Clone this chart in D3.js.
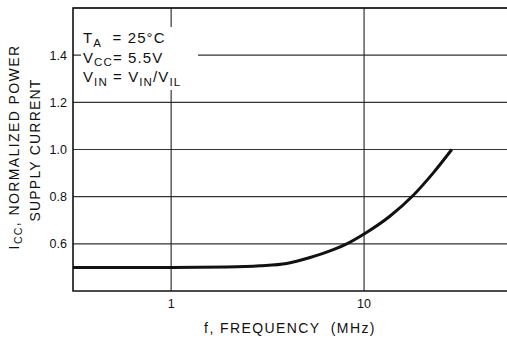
<!DOCTYPE html>
<html>
<head>
<meta charset="utf-8">
<script src="https://cdn.jsdelivr.net/npm/d3@7"></script>
<style>
  html, body { margin: 0; padding: 0; background: #fff; }
  svg { display: block; font-family: "Liberation Sans", Arial, Helvetica, sans-serif; }
</style>
</head>
<body>
<svg id="chart" width="507" height="342"></svg>
<script>
// Normalized supply current vs. frequency
const freqMHz = [0.31, 1, 1.94, 2.89, 3.97, 5.25, 6.93, 8.13, 10.1, 13.6, 18, 22.9, 28.5];
const iccNorm = [0.5, 0.5, 0.502, 0.507, 0.517, 0.542, 0.575, 0.600, 0.644, 0.717, 0.806, 0.902, 1.0];
const yTicks = [0.6, 0.8, 1.0, 1.2, 1.4];
const yGrid = [0.6, 0.8, 1.0, 1.2, 1.4, 1.6];
const xTicks = [1, 10];
const xTickLabels = ["1", "10"];

const svg = d3.select("#chart");
const plot = { left: 73, top: 8, right: 557, bottom: 291 };

const x = d3.scaleLog().domain([0.31, 100]).range([plot.left, plot.right]);
const y = d3.scaleLinear().domain([0.4, 1.6]).range([plot.bottom, plot.top]);

const ink = "#111";

// grid
svg.append("g").selectAll("line").data(yGrid).join("line")
  .attr("x1", plot.left).attr("x2", plot.right)
  .attr("y1", d => y(d)).attr("y2", d => y(d))
  .attr("stroke", "#333").attr("stroke-width", 1.1);
svg.append("g").selectAll("line").data(xTicks).join("line")
  .attr("x1", d => x(d)).attr("x2", d => x(d))
  .attr("y1", plot.top).attr("y2", plot.bottom)
  .attr("stroke", "#222").attr("stroke-width", 1.1);

// frame
svg.append("path")
  .attr("d", `M${plot.right},${plot.top}H${plot.left}V${plot.bottom}H${plot.right}`)
  .attr("fill", "none").attr("stroke", ink).attr("stroke-width", 1.6);

// curve
const line = d3.line()
  .x((d, i) => x(freqMHz[i]))
  .y(d => y(d))
  .curve(d3.curveMonotoneX);
svg.append("path")
  .datum(iccNorm)
  .attr("d", line)
  .attr("fill", "none").attr("stroke", ink).attr("stroke-width", 3)
  .attr("stroke-linecap", "butt");

// y tick labels
svg.append("g").selectAll("text").data(yTicks).join("text")
  .attr("x", 67).attr("y", d => y(d) + 4.5)
  .attr("text-anchor", "end")
  .attr("font-size", 12.5).attr("fill", ink)
  .text(d => d.toFixed(1));

// x tick labels
svg.append("g").selectAll("text").data(xTicks).join("text")
  .attr("x", d => x(d)).attr("y", 308)
  .attr("text-anchor", "middle")
  .attr("font-size", 12.5).attr("fill", ink)
  .text((d, i) => xTickLabels[i]);

// x axis title
svg.append("text")
  .attr("x", 290).attr("y", 333)
  .attr("text-anchor", "middle")
  .attr("font-size", 14).attr("letter-spacing", 1.4).attr("fill", ink)
  .attr("xml:space", "preserve").style("white-space", "pre")
  .text("f, FREQUENCY  (MHz)");

// y axis title (two lines)
const t1 = svg.append("text")
  .attr("transform", "translate(19,147) rotate(-90)")
  .attr("text-anchor", "middle")
  .attr("font-size", 14).attr("letter-spacing", 1.4).attr("fill", ink);
t1.append("tspan").text("I");
t1.append("tspan").attr("font-size", 10.5).attr("dy", 3).text("CC");
t1.append("tspan").attr("dy", -3).text(", NORMALIZED POWER");

svg.append("text")
  .attr("transform", "translate(40,150) rotate(-90)")
  .attr("text-anchor", "middle")
  .attr("font-size", 14).attr("letter-spacing", 1.2).attr("fill", ink)
  .text("SUPPLY CURRENT");

// conditions block on a white backing
svg.append("rect")
  .attr("x", 81).attr("y", 27).attr("width", 117).attr("height", 63)
  .attr("fill", "#fff");

const cond = svg.append("g").attr("font-size", 15).attr("letter-spacing", 1.1).attr("fill", ink);
function condLine(yPos, parts) {
  const t = cond.append("text").attr("x", 83).attr("y", yPos)
    .attr("xml:space", "preserve").style("white-space", "pre");
  let shift = 0;
  parts.forEach(([str, sub]) => {
    const want = sub ? 3.5 : 0;
    const s = t.append("tspan").attr("dy", want - shift).text(str);
    if (sub) s.attr("font-size", 11.5);
    shift = want;
  });
}
condLine(43, [["T"], ["A", true], ["  = 25°C"]]);
condLine(62.5, [["V"], ["CC", true], ["= 5.5V"]]);
condLine(82, [["V"], ["IN", true], [" = V"], ["IN", true], ["/V"], ["IL", true]]);
</script>
</body>
</html>
